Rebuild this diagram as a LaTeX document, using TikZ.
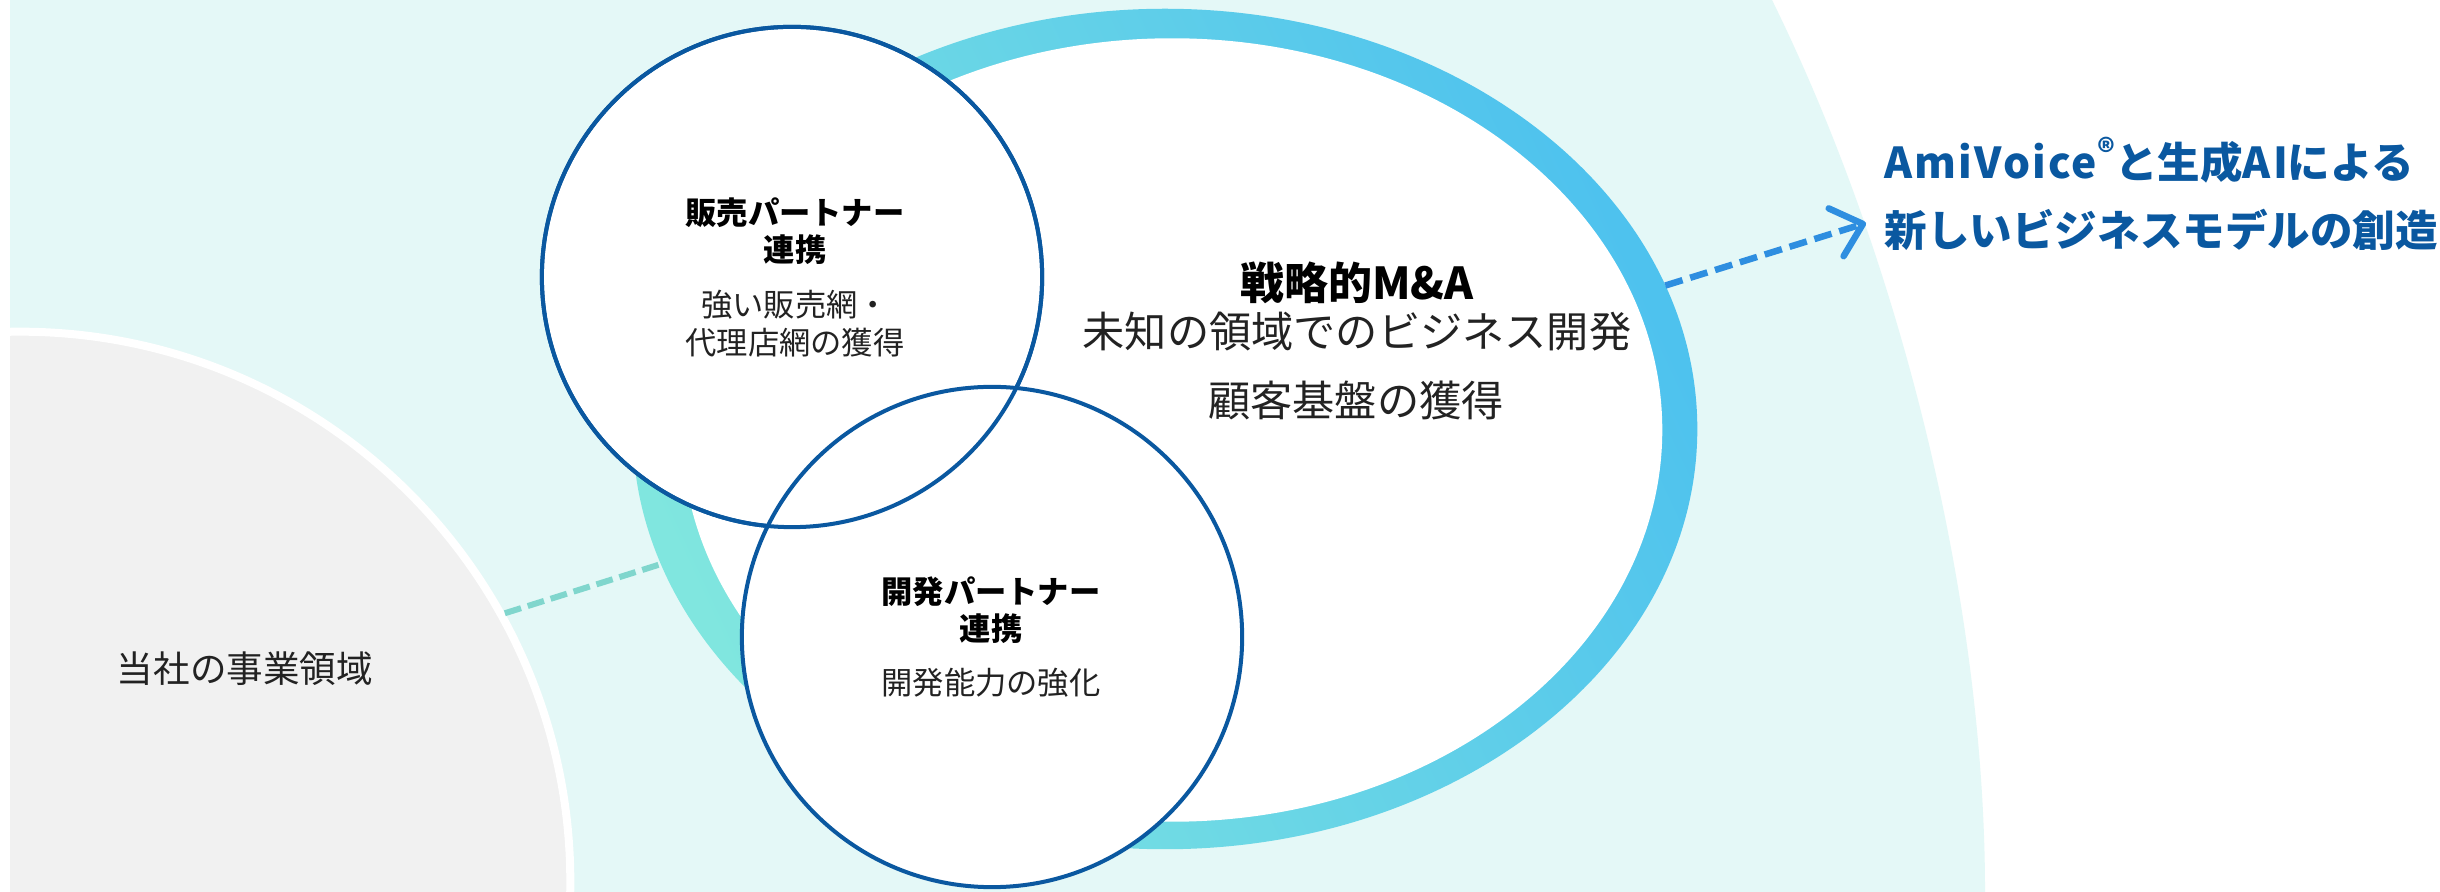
\documentclass[tikz,border=0pt]{standalone}
\usepackage{fontspec}
\setmainfont{Noto Sans CJK JP}
\usetikzlibrary{arrows.meta,shapes.geometric}
\definecolor{bgcyan}{HTML}{E4F8F7}
\definecolor{graybg}{HTML}{F1F1F1}
\definecolor{ringblue}{HTML}{4EC2EE}
\definecolor{ringteal}{HTML}{80E6DF}
\definecolor{navy}{HTML}{0A58A0}
\definecolor{tealdash}{HTML}{80D6CD}
\definecolor{arrowblue}{HTML}{2E8EE0}
\definecolor{txt}{HTML}{222222}
\newcommand{\spaced}[1]{{\addfontfeature{LetterSpace=5}#1}}
\begin{document}
\begin{tikzpicture}[x=0.01cm, y=-0.01cm,
  partnerc/.style={circle, draw=navy, line width=0.04cm, fill=white, minimum size=5cm, inner sep=0pt},
  homec/.style={circle, fill=graybg, draw=white, line width=0.08cm, minimum size=11cm, inner sep=0pt},
  ptitle/.style={align=center, inner sep=0pt, text=black, font=\bfseries\fontsize{8.9pt}{10.6pt}\selectfont},
  pbody/.style={align=center, inner sep=0pt, text=txt, font=\fontsize{8.9pt}{10.8pt}\selectfont},
  matitle/.style={inner sep=0pt, text=black, font=\bfseries\fontsize{12.5pt}{14pt}\selectfont},
  mabody/.style={inner sep=0pt, text=txt, font=\fontsize{12pt}{14pt}\selectfont},
  homelabel/.style={inner sep=0pt, text=txt, font=\fontsize{10.4pt}{12pt}\selectfont},
  outtext/.style={inner sep=0pt, anchor=west, text=navy, font=\bfseries\fontsize{12.1pt}{14pt}\selectfont},
  dashconn/.style={line width=0.06cm, dash pattern=on 0.17cm off 0.07cm}
]
\useasboundingbox (0,0) rectangle (2440,892);
\fill[white] (0,0) rectangle (2440,892);
\begin{scope}
  \clip (10,0) rectangle (2440,892);
  \fill[bgcyan] (10,0) -- (1772,0) .. controls (1900,260) and (1985,600) .. (1985,892) -- (10,892) -- cycle;
  \node[homec] (home) at (20,882) {};
\end{scope}
\node[homelabel] (homeLabel) at (245,669) {当社の事業領域};

% M&A ring
\node[ellipse, minimum width=10.64cm, minimum height=8.4cm, inner sep=0pt, outer sep=0pt,
      top color=ringteal, bottom color=ringblue, shading angle=115] (ma) at (1165,429) {};
\node[ellipse, minimum width=9.8cm, minimum height=7.83cm, inner sep=0pt, fill=white] (maIn) at (1172,430) {};

% connectors
\coordinate (tip) at (1866,223);
\draw[tealdash, dashconn] (home.29) -- (ma.195);
\draw[arrowblue, line width=0.065cm, dash pattern=on 0.18cm off 0.08cm,
      -{Straight Barb[length=0.28cm, width=0.5cm, round]}] (ma.16) -- (tip);

% partner circles
\node[partnerc] (sales) at (792,277) {};
\node[partnerc] (dev) at (992,637) {};
\draw[navy, line width=0.04cm] (sales.center) circle[radius=2.5cm];

% texts
\node[ptitle] (salesT) at (795,231) {販売パートナー\\連携};
\node[pbody] (salesB) at (795,324) {強い販売網・\\代理店網の獲得};
\node[ptitle] (devT) at (991,610) {開発パートナー\\連携};
\node[pbody] (devB) at (991,683) {開発能力の強化};
\node[matitle] (maT) at (1357,283) {戦略的M\&A};
\node[mabody] (maB1) at (1357,332) {未知の領域でのビジネス開発};
\node[mabody] (maB2) at (1356,400) {顧客基盤の獲得};
\node[outtext] (out1) at (1884,160) {\spaced{AmiVoice}{\fontsize{9.5pt}{10pt}\selectfont\raisebox{0.42em}{®}}と生成\spaced{AI}による};
\node[outtext] (out2) at (1884,230) {新しいビジネスモデルの創造};
\end{tikzpicture}
\end{document}
